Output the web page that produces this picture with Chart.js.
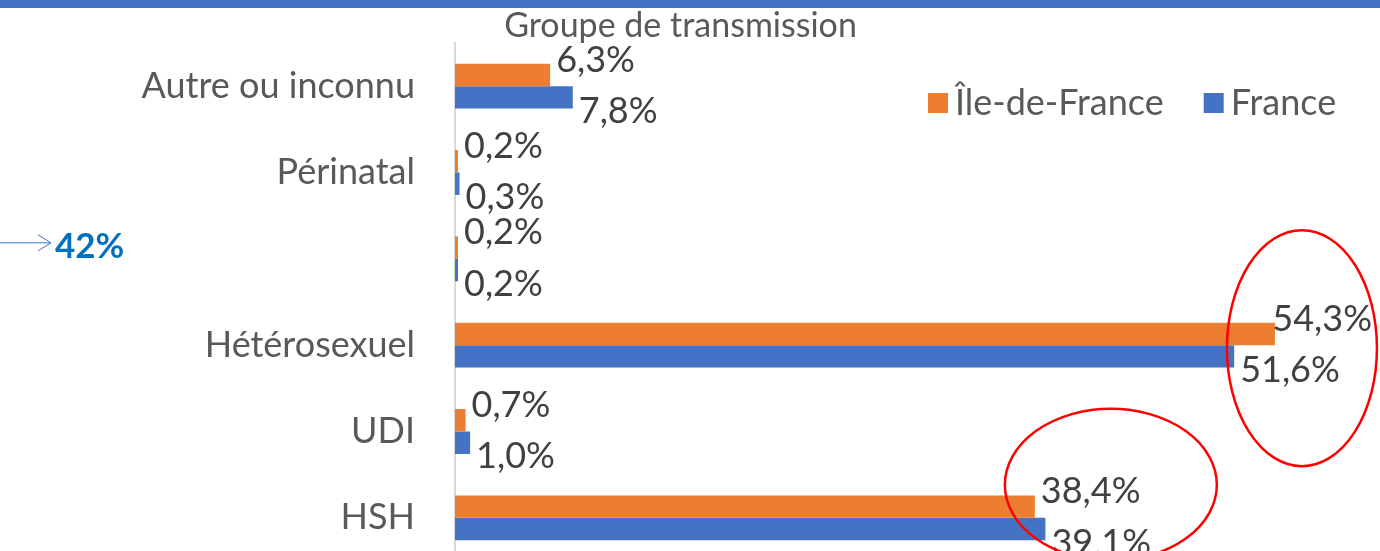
<!DOCTYPE html>
<html>
<head>
<meta charset="utf-8">
<script src="https://cdn.jsdelivr.net/npm/chart.js@4"></script>
<style>
  html, body { margin: 0; padding: 0; overflow: hidden; background: #fff; }
  #wrap { width: 1380px; height: 551px; overflow: hidden; }
  #box { position: relative; width: 1380px; height: 561px; }
</style>
</head>
<body>
<div id="wrap"><div id="box"><canvas id="transChart"></canvas></div></div>
<script>
const categories = ["Autre ou inconnu", "Périnatal", "", "Hétérosexuel", "UDI", "HSH"];
const idfValues = [6.3, 0.2, 0.2, 54.3, 0.7, 38.4];
const franceValues = [7.8, 0.3, 0.2, 51.6, 1.0, 39.1];
const seriesNames = ["Île-de-France", "France"];
const calloutText = "42%";

const ORANGE = "#ED7D31";
const BLUE = "#4472C4";
const FONT = "Lato, 'Open Sans', sans-serif";

function fmt(v) {
    return v.toFixed(1).replace(".", ",") + "%";
}

// labels nudged above (orange) / below (blue) the bars, like in the original
const decorations = {
    id: "decorations",
    beforeDraw(chart) {
        const ctx = chart.ctx;
        ctx.save();
        ctx.fillStyle = BLUE;
        ctx.fillRect(0, 0, chart.width, 8);
        ctx.restore();
    },
    afterDatasetsDraw(chart) {
        const ctx = chart.ctx;
        const xs = chart.scales.x;
        const ys = chart.scales.y;
        ctx.save();
        ctx.font = "36px " + FONT;
        ctx.fillStyle = "#404040";
        ctx.textBaseline = "middle";
        chart.data.datasets.forEach(function (ds, di) {
            const meta = chart.getDatasetMeta(di);
            meta.data.forEach(function (bar, i) {
                const txt = fmt(ds.data[i]);
                const w = ctx.measureText(txt).width;
                let x = bar.x + 6;
                if (x + w > chart.width - 8) x = chart.width - 8 - w;
                const y = di === 0 ? bar.y - 15 : bar.y + 14;
                ctx.fillText(txt, x, y);
            });
        });

        // legend inside the plot, top right
        let lx = 928;
        const ly = 103;
        chart.data.datasets.forEach(function (ds) {
            ctx.fillStyle = ds.backgroundColor;
            ctx.fillRect(lx, ly - 10, 20, 20);
            ctx.fillStyle = "#595959";
            ctx.fillText(ds.label, lx + 27, ly);
            lx += 27 + ctx.measureText(ds.label).width + 40;
        });

        // arrow + callout on the left
        const cy = ys.getPixelForValue(2) - 16;
        ctx.strokeStyle = BLUE;
        ctx.lineWidth = 1;
        ctx.beginPath();
        ctx.moveTo(0, cy);
        ctx.lineTo(50, cy);
        ctx.moveTo(38, cy - 8);
        ctx.lineTo(51, cy);
        ctx.lineTo(38, cy + 8);
        ctx.stroke();
        ctx.font = "bold 35px " + FONT;
        ctx.fillStyle = "#0070C0";
        ctx.fillText(calloutText, 55, cy + 4);

        // red circles drawn around the main values
        ctx.strokeStyle = "#FF0000";
        ctx.lineWidth = 2.5;
        ctx.beginPath();
        ctx.ellipse(xs.getPixelForValue(idfValues[3]) + 27, ys.getPixelForValue(3) + 3, 75, 118, 0, 0, Math.PI * 2);
        ctx.stroke();
        ctx.beginPath();
        ctx.ellipse(xs.getPixelForValue(idfValues[5]) + 76, ys.getPixelForValue(5) - 33, 106, 76, 0, 0, Math.PI * 2);
        ctx.stroke();
        ctx.restore();
    }
};

new Chart("transChart", {
    type: "bar",
    data: {
        labels: categories,
        datasets: [{
            label: seriesNames[0],
            data: idfValues,
            backgroundColor: ORANGE
        }, {
            label: seriesNames[1],
            data: franceValues,
            backgroundColor: BLUE
        }]
    },
    options: {
        indexAxis: "y",
        responsive: true,
        maintainAspectRatio: false,
        animation: false,
        datasets: {
            bar: {
                categoryPercentage: 0.52,
                barPercentage: 1
            }
        },
        layout: {
            padding: { right: 19, left: 0, top: 0, bottom: 0 }
        },
        scales: {
            x: {
                display: false,
                min: 0,
                max: 60
            },
            y: {
                grid: { display: false, drawTicks: false },
                border: { display: true, color: "#d9d9d9", width: 2 },
                afterFit: function (scale) {
                    scale.width = 455;
                    scale.paddingTop = 0;
                    scale.paddingBottom = 0;
                },
                ticks: {
                    padding: 40,
                    color: "#595959",
                    font: { family: FONT, size: 36 }
                }
            }
        },
        plugins: {
            legend: { display: false },
            tooltip: { enabled: false },
            title: {
                display: true,
                text: "Groupe de transmission",
                color: "#595959",
                font: { family: FONT, size: 34, weight: "normal", lineHeight: 1 },
                padding: { top: 9, bottom: 0 }
            }
        }
    },
    plugins: [decorations]
});
</script>
</body>
</html>
